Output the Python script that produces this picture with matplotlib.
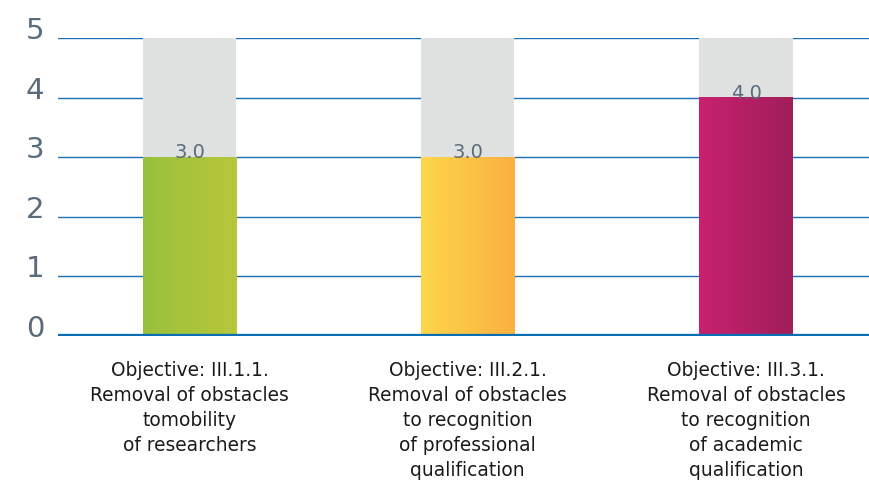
import numpy as np
import matplotlib
matplotlib.use("Agg")
import matplotlib.pyplot as plt
import matplotlib.transforms as mtrans
from matplotlib.colors import LinearSegmentedColormap

# Data
categories = [
    "Objective: III.1.1.\nRemoval of obstacles\ntomobility\nof researchers",
    "Objective: III.2.1.\nRemoval of obstacles\nto recognition\nof professional\nqualification",
    "Objective: III.3.1.\nRemoval of obstacles\nto recognition\nof academic\nqualification",
]
values = [3.0, 3.0, 4.0]
max_value = 5
y_ticks = [0, 1, 2, 3, 4, 5]

# gradient colours (left -> right) for each bar
gradients = [("#98c13c", "#b8c73a"), ("#fdd64b", "#fbb040"), ("#c9216f", "#a01e5a")]

fig = plt.figure(figsize=(8.69, 4.8), dpi=100)
ax = fig.add_axes([58 / 869, 144 / 480, 811 / 869, 298 / 480])

bar_w = 0.335
x = np.arange(len(categories))

# horizontal grid lines
for t in y_ticks[1:]:
    ax.axhline(t, color="#1a70b8", lw=1.0, zorder=1)

grad = np.linspace(0, 1, 256).reshape(1, -1)
for i, v in enumerate(values):
    # grey background up to max
    ax.bar(x[i], max_value, bar_w, color="#e0e1e1", zorder=2)
    cmap = LinearSegmentedColormap.from_list("g%d" % i, gradients[i])
    ax.imshow(grad, cmap=cmap, aspect="auto", zorder=3,
              extent=[x[i] - bar_w / 2, x[i] + bar_w / 2, 0, v])
    ax.text(x[i], v - 0.02, "%.1f" % v, ha="center", va="baseline",
            fontsize=14, color="#5a6b7b", zorder=4)

ax.axhline(0, color="#0a6eb4", lw=3.8, zorder=5)

ax.set_xlim(-0.473, 2.442)
ax.set_ylim(0, max_value)
ax.set_yticks(y_ticks)
ax.set_yticklabels([str(t) for t in y_ticks], fontsize=21, color="#5a6b7b")
ax.tick_params(axis="y", length=0, pad=10)
shift = mtrans.ScaledTranslation(0, 10 / 100, fig.dpi_scale_trans)
for lab in ax.get_yticklabels():
    lab.set_transform(lab.get_transform() + shift)
ax.set_xticks(x)
ax.set_xticklabels(categories, fontsize=13.4, color="#1a1a1a", linespacing=1.4)
ax.tick_params(axis="x", length=0, pad=18)
for s in ax.spines.values():
    s.set_visible(False)

fig.savefig("out.png", dpi=100)
